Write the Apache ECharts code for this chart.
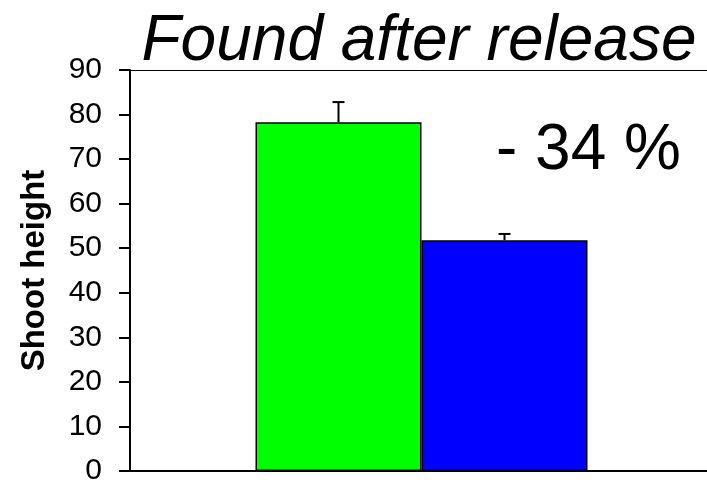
<!DOCTYPE html>
<html>
<head>
<meta charset="utf-8">
<script src="https://cdn.jsdelivr.net/npm/echarts@6/dist/echarts.min.js"></script>
<style>html,body{margin:0;padding:0;background:#fff}#c{width:707px;height:484px}</style>
</head>
<body>
<div id="c"></div>
<script>
var categories = [''];
var seriesNames = ['Control', 'Treated'];
var barValues = [78.3, 51.8];
var errorTops = [82.8, 53.2];
var barColors = ['#00ff00', '#0000ff'];
var yTicks = {min: 0, max: 90, interval: 10};
var titleText = 'Found after release';
var yName = 'Shoot height';
var noteText = '- 34 %';

var FONT = '"Liberation Sans", Arial, sans-serif';
var BAR_W = 166;

var chart = echarts.init(document.getElementById('c'), null, {renderer: 'canvas'});

var barSeries = barValues.map(function (v, i) {
  return {
    name: seriesNames[i],
    type: 'bar',
    data: [v],
    barWidth: BAR_W,
    barGap: '0%',
    itemStyle: {color: barColors[i], borderColor: '#000', borderWidth: 1.5},
    silent: true,
    z: 2
  };
});

var errSeries = {
  type: 'custom',
  silent: true,
  z: 5,
  data: errorTops.map(function (t, i) { return [i, barValues[i], t]; }),
  renderItem: function (params, api) {
    var idx = api.value(0);
    var base = api.coord([0, api.value(1)]);
    var top = api.coord([0, api.value(2)]);
    var cx = base[0] + (idx === 0 ? -BAR_W / 2 : BAR_W / 2);
    var cap = 6;
    return {
      type: 'group',
      children: [
        {type: 'line', shape: {x1: cx, y1: base[1], x2: cx, y2: top[1]}, style: {stroke: '#000', lineWidth: 2}},
        {type: 'line', shape: {x1: cx - cap, y1: top[1], x2: cx + cap, y2: top[1]}, style: {stroke: '#000', lineWidth: 2}}
      ]
    };
  }
};

chart.setOption({
  animation: false,
  backgroundColor: '#fff',
  title: {
    text: titleText,
    left: 414,
    textAlign: 'center',
    top: 5,
    textStyle: {fontFamily: FONT, fontStyle: 'italic', fontWeight: 'normal', fontSize: 64, color: '#000'}
  },
  grid: {left: 130, right: -6, top: 70, bottom: 13, containLabel: false, outerBoundsMode: 'none'},
  xAxis: [{
    type: 'category',
    data: categories,
    axisLine: {show: true, lineStyle: {color: '#000', width: 2}},
    axisTick: {show: false},
    axisLabel: {show: false}
  }, {
    type: 'category',
    data: categories,
    position: 'top',
    axisLine: {show: true, onZero: false, lineStyle: {color: '#000', width: 1}},
    axisTick: {show: false},
    axisLabel: {show: false}
  }],
  yAxis: {
    type: 'value',
    min: yTicks.min,
    max: yTicks.max,
    interval: yTicks.interval,
    name: yName,
    nameLocation: 'middle',
    nameGap: 79,
    nameRotate: 90,
    nameTextStyle: {fontFamily: FONT, fontWeight: 'bold', fontSize: 33, color: '#000'},
    axisLine: {show: true, lineStyle: {color: '#000', width: 2}},
    axisTick: {show: true, inside: false, length: 11, lineStyle: {color: '#000', width: 2}},
    axisLabel: {fontFamily: FONT, fontSize: 30, color: '#000', margin: 28},
    splitLine: {show: false}
  },
  graphic: [{
    type: 'text',
    left: 496,
    top: 119,
    style: {text: noteText, fontFamily: FONT, fontSize: 64, fill: '#000'}
  }],
  series: barSeries.concat([errSeries])
});
</script>
</body>
</html>
